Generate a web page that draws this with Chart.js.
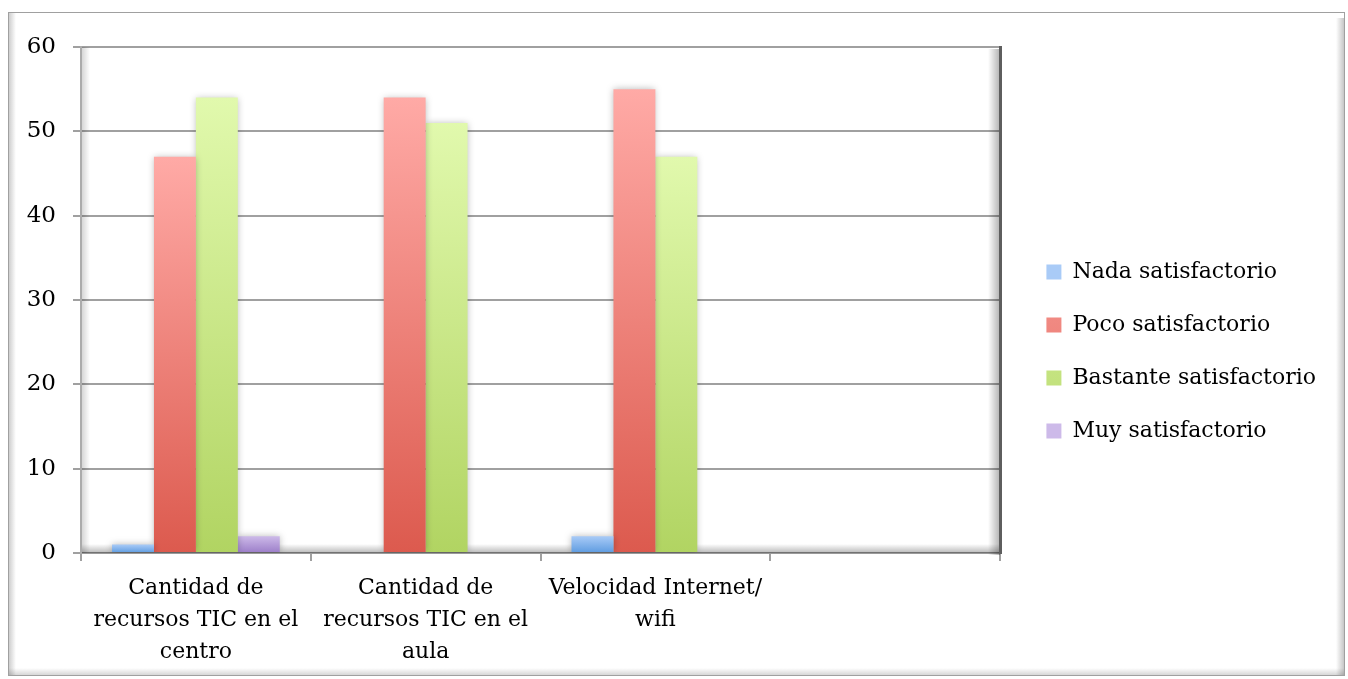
<!DOCTYPE html>
<html>
<head>
<meta charset="utf-8">
<script src="https://cdn.jsdelivr.net/npm/chart.js@4/dist/chart.umd.min.js"></script>
<style>
  html, body { margin: 0; padding: 0; background: #fff; }
  #wrap { width: 1348px; height: 679px; position: relative; }
</style>
</head>
<body>
<div id="wrap"><canvas id="chart"></canvas></div>
<script>
// ----------------------------------------
// Data
// ----------------------------------------
var categories = [
    ['Cantidad de', 'recursos TIC en el', 'centro'],
    ['Cantidad de', 'recursos TIC en el', 'aula'],
    ['Velocidad Internet/', 'wifi'],
    ''
];
var seriesNames = ['Nada satisfactorio', 'Poco satisfactorio', 'Bastante satisfactorio', 'Muy satisfactorio'];
var nada = [1, 0, 2, null];
var poco = [47, 54, 55, null];
var bastante = [54, 51, 47, null];
var muy = [2, 0, 0, null];

// top colour, bottom colour, legend colour
var colNada = ['#a9cbf7', '#5d9be0', '#82b2ec'];
var colPoco = ['#ffaaa6', '#dc5a4e', '#ee8078'];
var colBastante = ['#e1f9ad', '#b1d462', '#c9e787'];
var colMuy = ['#cdbae9', '#9b7dc8', '#b49bd8'];

var PLOT_RIGHT = 1000;
var PAD_RIGHT = 22;

// vertical gradient for each bar, from its top to the baseline
function barFill(cols) {
    return function (c) {
        if (c.type !== 'data' || c.raw == null) return cols[2];
        var chart = c.chart;
        var y = chart.scales.y;
        if (!y || !chart.chartArea) return cols[2];
        var y0 = y.getPixelForValue(c.raw);
        var y1 = y.getPixelForValue(0);
        if (y1 - y0 < 1) return cols[1];
        var g = chart.ctx.createLinearGradient(0, y0, 0, y1);
        g.addColorStop(0, cols[0]);
        g.addColorStop(1, cols[1]);
        return g;
    };
}

// outer frame with soft inner shadows
var framePlugin = {
    id: 'frame',
    beforeDraw: function (chart) {
        var ctx = chart.ctx;
        var l = 8, t = 12, r = 1345, b = 676;
        ctx.save();
        ctx.fillStyle = '#fff';
        ctx.fillRect(l, t, r - l, b - t);
        var g = ctx.createLinearGradient(l, 0, l + 8, 0);
        g.addColorStop(0, 'rgba(0,0,0,0.22)');
        g.addColorStop(1, 'rgba(0,0,0,0)');
        ctx.fillStyle = g;
        ctx.fillRect(l, t, 8, b - t);
        g = ctx.createLinearGradient(r - 9, 0, r, 0);
        g.addColorStop(0, 'rgba(0,0,0,0)');
        g.addColorStop(1, 'rgba(0,0,0,0.25)');
        ctx.fillStyle = g;
        ctx.fillRect(r - 9, t + 6, 9, b - t - 6);
        g = ctx.createLinearGradient(0, b - 8, 0, b);
        g.addColorStop(0, 'rgba(0,0,0,0)');
        g.addColorStop(1, 'rgba(0,0,0,0.18)');
        ctx.fillStyle = g;
        ctx.fillRect(l, b - 8, r - l, 8);
        ctx.strokeStyle = '#a0a0a0';
        ctx.lineWidth = 1;
        ctx.strokeRect(l + 0.5, t + 0.5, r - l - 1, b - t - 1);
        ctx.restore();
    }
};

// 3D walls and floor, and a soft shadow on the bars
var wallsPlugin = {
    id: 'walls',
    beforeDatasetsDraw: function (chart) {
        var ctx = chart.ctx;
        var a = chart.chartArea;
        ctx.save();
        var g = ctx.createLinearGradient(a.left + 1, 0, a.left + 9, 0);
        g.addColorStop(0, 'rgba(0,0,0,0.16)');
        g.addColorStop(1, 'rgba(0,0,0,0)');
        ctx.fillStyle = g;
        ctx.fillRect(a.left + 1, a.top, 8, a.bottom - a.top);
        g = ctx.createLinearGradient(0, a.bottom - 9, 0, a.bottom);
        g.addColorStop(0, 'rgba(0,0,0,0)');
        g.addColorStop(1, 'rgba(0,0,0,0.28)');
        ctx.fillStyle = g;
        ctx.fillRect(a.left + 1, a.bottom - 9, a.right - a.left, 9);
        g = ctx.createLinearGradient(a.right - 12, 0, a.right, 0);
        g.addColorStop(0, 'rgba(0,0,0,0)');
        g.addColorStop(1, 'rgba(0,0,0,0.3)');
        ctx.fillStyle = g;
        ctx.fillRect(a.right - 12, a.top + 2, 12, a.bottom - a.top);
        ctx.fillStyle = '#5e5e5e';
        ctx.fillRect(a.right - 1, a.top - 1, 3, a.bottom - a.top + 2);
        ctx.restore();

        ctx.save();
        ctx.shadowColor = 'rgba(0,0,0,0.28)';
        ctx.shadowBlur = 7;
    },
    afterDatasetsDraw: function (chart) {
        chart.ctx.restore();
    }
};

Chart.defaults.font.family = "'DejaVu Serif', serif";
Chart.defaults.font.size = 22;
Chart.defaults.color = '#000';

// empty spacer axis, only there to take up room in the layout
function spacer(position, size) {
    return {
        type: 'linear',
        position: position,
        display: true,
        grid: { display: false },
        border: { display: false },
        ticks: { display: false },
        afterFit: function (s) {
            if (typeof size === 'function') s.width = size(s);
            else s.height = size;
        }
    };
}

var ctx = document.getElementById('chart').getContext('2d');
var config = {
    type: 'bar',
    data: {
        labels: categories,
        datasets: [
            { label: seriesNames[0], data: nada, backgroundColor: barFill(colNada) },
            { label: seriesNames[1], data: poco, backgroundColor: barFill(colPoco) },
            { label: seriesNames[2], data: bastante, backgroundColor: barFill(colBastante) },
            { label: seriesNames[3], data: muy, backgroundColor: barFill(colMuy) }
        ]
    },
    options: {
        responsive: true,
        maintainAspectRatio: false,
        animation: false,
        devicePixelRatio: 1,
        layout: { padding: { top: 24, bottom: 0, left: 0, right: PAD_RIGHT } },
        datasets: {
            bar: { categoryPercentage: 0.73, barPercentage: 1.0, borderWidth: 0 }
        },
        scales: {
            x: {
                grid: {
                    offset: true,
                    drawOnChartArea: false,
                    tickLength: 8,
                    color: '#a0a0a0',
                    lineWidth: 2
                },
                border: { color: '#9a9a9a', width: 2 },
                ticks: {
                    padding: 11,
                    maxRotation: 0,
                    autoSkip: false,
                    font: { size: 22, lineHeight: 1.455 }
                },
                afterFit: function (s) { s.height = 126; }
            },
            y: {
                min: 0,
                max: 60,
                ticks: { stepSize: 10, padding: 17, font: { size: 23 } },
                grid: { color: '#a0a0a0', lineWidth: 2, tickLength: 8 },
                border: { color: '#ababab', width: 2 },
                afterFit: function (s) { s.width = 81; }
            },
            gapTop: spacer('top', 23),
            gapRight: spacer('right', function (s) {
                var lw = s.chart.legend ? s.chart.legend.width : 0;
                return Math.max(0, 1348 - PAD_RIGHT - PLOT_RIGHT - lw);
            })
        },
        plugins: {
            legend: {
                position: 'right',
                maxWidth: 400,
                labels: {
                    boxWidth: 15,
                    boxHeight: 15,
                    padding: 31,
                    font: { size: 22 },
                    color: '#000'
                }
            },
            tooltip: { enabled: false }
        }
    },
    plugins: [framePlugin, wallsPlugin]
};
var chart = new Chart(ctx, config);
</script>
</body>
</html>
